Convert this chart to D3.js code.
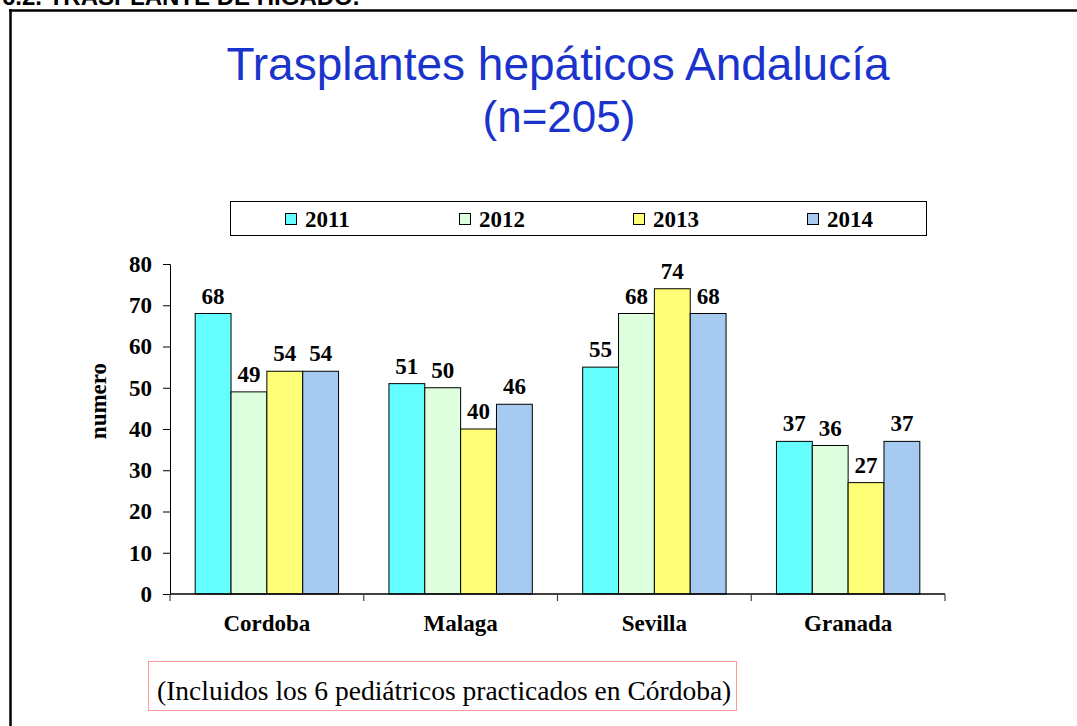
<!DOCTYPE html>
<html>
<head>
<meta charset="utf-8">
<script src="https://cdn.jsdelivr.net/npm/d3@7"></script>
<style>
  body { margin: 0; background: #fff; }
  svg { display: block; }
</style>
</head>
<body>
<svg id="chart" width="1077" height="726"></svg>
<script>
const categories = ["Cordoba", "Malaga", "Sevilla", "Granada"];
const seriesNames = ["2011", "2012", "2013", "2014"];
const values2011 = [68, 51, 55, 37];
const values2012 = [49, 50, 68, 36];
const values2013 = [54, 40, 74, 27];
const values2014 = [54, 46, 68, 37];
const yTicks = [0, 10, 20, 30, 40, 50, 60, 70, 80];
const colors = ["#66ffff", "#ddffdd", "#ffff77", "#a6caf0"];

const series = [values2011, values2012, values2013, values2014];
const svg = d3.select("#chart");
const serif = "'Liberation Serif', 'Times New Roman', serif";
const sans = "'Liberation Sans', Arial, sans-serif";
const fs = 23;

// header (cropped) and frame
svg.append("text").attr("x", 2).attr("y", 5)
  .attr("font-family", sans).attr("font-weight", "bold").attr("font-size", 24)
  .attr("fill", "#000").text("6.2. TRASPLANTE DE HIGADO.");
svg.append("line").attr("x1", 9).attr("x2", 1077).attr("y1", 10.5).attr("y2", 10.5)
  .attr("stroke", "#000").attr("stroke-width", 2.5);
svg.append("line").attr("x1", 10.5).attr("x2", 10.5).attr("y1", 9).attr("y2", 726)
  .attr("stroke", "#000").attr("stroke-width", 2.5);

// title
svg.append("text").attr("x", 558).attr("y", 80).attr("text-anchor", "middle")
  .attr("font-family", sans).attr("font-size", 46).attr("fill", "#1a33cc")
  .text("Trasplantes hepáticos Andalucía");
svg.append("text").attr("x", 559).attr("y", 132).attr("text-anchor", "middle")
  .attr("font-family", sans).attr("font-size", 44).attr("fill", "#1a33cc")
  .text("(n=205)");

// scales
const x0 = d3.scaleBand().domain(categories).range([170, 945]).paddingInner(0.26).paddingOuter(0.13);
const x1 = d3.scaleBand().domain(seriesNames).range([0, x0.bandwidth()]);
const y = d3.scaleLinear().domain([0, 80]).range([594, 264]);

// bars
categories.forEach((c, ci) => {
  const g = svg.append("g").attr("transform", `translate(${x0(c)},0)`);
  seriesNames.forEach((s, si) => {
    const v = series[si][ci];
    g.append("rect")
      .attr("x", x1(s)).attr("y", y(v))
      .attr("width", x1.bandwidth()).attr("height", y(0) - y(v))
      .attr("fill", colors[si]).attr("stroke", "#000").attr("stroke-width", 1);
    g.append("text")
      .attr("x", x1(s) + x1.bandwidth() / 2).attr("y", y(v) - 10)
      .attr("text-anchor", "middle")
      .attr("font-family", serif).attr("font-weight", "bold").attr("font-size", fs)
      .text(v);
  });
});

// y axis
const yAxis = svg.append("g").attr("transform", "translate(170,0)")
  .call(d3.axisLeft(y).tickValues(yTicks).tickSize(7).tickPadding(11));
yAxis.select(".domain").attr("stroke", "#000");
yAxis.selectAll("line").attr("stroke", "#000");
yAxis.selectAll("text").attr("font-family", serif).attr("font-weight", "bold")
  .attr("font-size", fs).attr("fill", "#000");

// x axis
const xAxisLine = svg.append("g");
xAxisLine.append("line").attr("x1", 170).attr("x2", 945).attr("y1", y(0)).attr("y2", y(0))
  .attr("stroke", "#000").attr("stroke-width", 1.5);
const bounds = categories.map(c => x0(c) - x0.step() * x0.paddingInner() / 2);
bounds.push(945);
bounds[0] = 170;
bounds.forEach(b => {
  xAxisLine.append("line").attr("x1", b).attr("x2", b).attr("y1", y(0)).attr("y2", y(0) + 7)
    .attr("stroke", "#444").attr("stroke-width", 1.2);
});
categories.forEach(c => {
  svg.append("text").attr("x", x0(c) + x0.bandwidth() / 2).attr("y", 631)
    .attr("text-anchor", "middle")
    .attr("font-family", serif).attr("font-weight", "bold").attr("font-size", fs)
    .text(c);
});

// y title
svg.append("text").attr("transform", "translate(106,401) rotate(-90)")
  .attr("text-anchor", "middle")
  .attr("font-family", serif).attr("font-weight", "bold").attr("font-size", 23)
  .text("numero");

// legend
svg.append("rect").attr("x", 230.5).attr("y", 201.5).attr("width", 696).attr("height", 34)
  .attr("fill", "#fff").attr("stroke", "#000").attr("stroke-width", 1);
const legendX = [285, 459, 633, 807];
seriesNames.forEach((s, i) => {
  svg.append("rect").attr("x", legendX[i] + 0.5).attr("y", 213.5).attr("width", 11).attr("height", 11)
    .attr("fill", colors[i]).attr("stroke", "#000").attr("stroke-width", 1);
  svg.append("text").attr("x", legendX[i] + 20).attr("y", 227)
    .attr("font-family", serif).attr("font-weight", "bold").attr("font-size", fs)
    .text(s);
});

// note box
svg.append("rect").attr("x", 148.5).attr("y", 661.5).attr("width", 588).attr("height", 49)
  .attr("fill", "#fff").attr("stroke", "#ff9999").attr("stroke-width", 1);
svg.append("text").attr("x", 157).attr("y", 700)
  .attr("font-family", serif).attr("font-size", 27.5)
  .text("(Incluidos los 6 pediátricos practicados en Córdoba)");
</script>
</body>
</html>
